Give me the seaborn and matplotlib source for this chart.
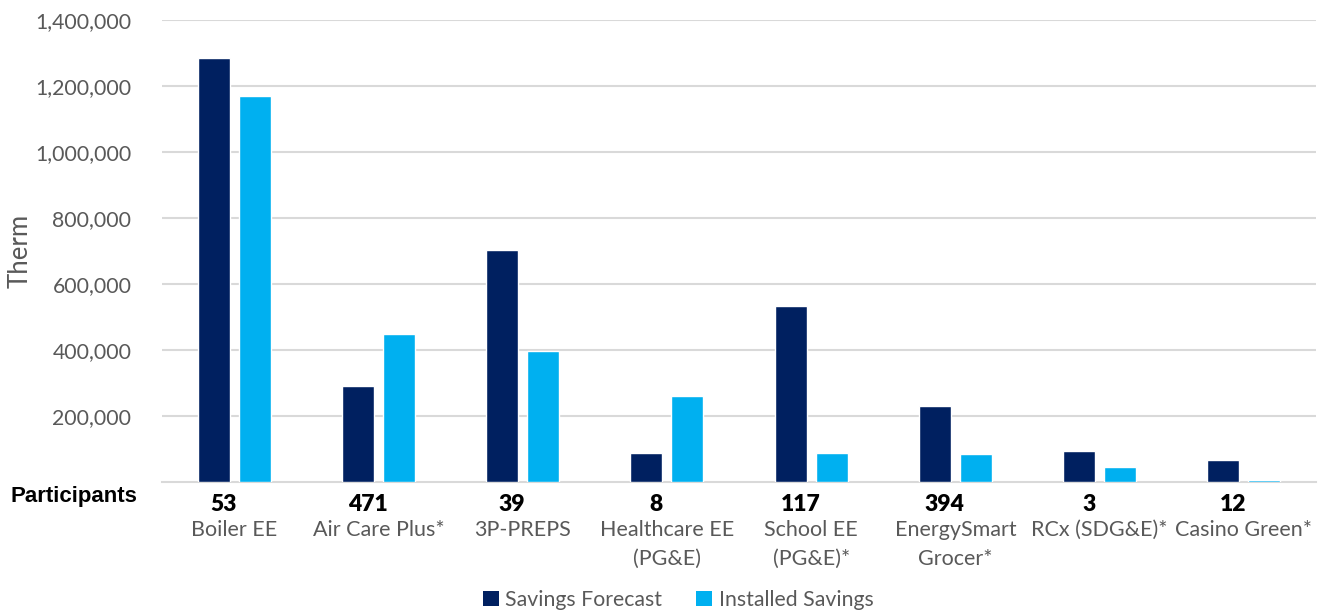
import matplotlib
matplotlib.use("Agg")
import matplotlib.pyplot as plt
import matplotlib.transforms as mtransforms
from matplotlib.patches import Patch
from matplotlib.ticker import FuncFormatter
import seaborn as sns
import pandas as pd

programs = ["Boiler EE", "Air Care Plus*", "3P-PREPS", "Healthcare EE\n(PG&E)",
            "School EE\n(PG&E)*", "EnergySmart\nGrocer*", "RCx (SDG&E)*", "Casino Green*"]
participants = ["53", "471", "39", "8", "117", "394", "3", "12"]
savings_forecast = [1284000, 291000, 703000, 89000, 532000, 230000, 95000, 67000]
installed_savings = [1170000, 447000, 397000, 262000, 89000, 85000, 46000, 6000]
series_names = ["Savings Forecast", "Installed Savings"]
colors = ["#002060", "#00B0F0"]

df = pd.DataFrame({
    "program": programs * 2,
    "series": [series_names[0]] * len(programs) + [series_names[1]] * len(programs),
    "value": savings_forecast + installed_savings,
})

sns.set_theme(style="white")
plt.rcParams["font.family"] = ["Lato", "DejaVu Sans"]

fig = plt.figure(figsize=(13.22, 6.13), dpi=100)
ax = fig.add_axes([0.1225, 0.2137, 0.8730, 0.7537])

sns.barplot(data=df, x="program", y="value", hue="series", palette=colors,
            width=0.568, gap=0.22, ax=ax, legend=False, saturation=1, zorder=3)

ax.set_ylim(0, 1400000)
ax.set_xlim(-0.5, len(programs) - 0.5)
ax.set_yticks([200000, 400000, 600000, 800000, 1000000, 1200000, 1400000])
ax.yaxis.set_major_formatter(FuncFormatter(lambda v, p: f"{int(v):,}"))
ax.grid(axis="y", color="#d9d9d9", linewidth=1.5)
ax.set_axisbelow(True)
for s in ["top", "right", "left"]:
    ax.spines[s].set_visible(False)
ax.spines["bottom"].set_color("#d9d9d9")
ax.spines["bottom"].set_linewidth(1.5)
ax.spines["bottom"].set_zorder(1)

ax.tick_params(axis="y", labelsize=15.3, labelcolor="#595959", length=0, pad=22)
ax.tick_params(axis="x", labelsize=15.5, labelcolor="#595959", length=0, pad=27)
ax.set_xticks(range(len(programs)))
ax.set_xticklabels(programs, linespacing=1.6, va="top")
ax.set_xlabel("")
ax.set_ylabel("Therm", fontsize=18.5, color="#595959")
ax.yaxis.set_label_coords(-0.112, 0.5)

trans = mtransforms.blended_transform_factory(ax.transData, ax.transAxes)
for i, n in enumerate(participants):
    ax.text(i - 0.075, -0.049, n, transform=trans, ha="center", va="center",
            fontsize=16.5, fontweight="heavy", color="black")
fig.text(0.104, 0.190, "Participants", ha="right", va="center",
         fontsize=16, fontweight="semibold", color="black",
         family=["Liberation Sans", "DejaVu Sans"])

handles = [Patch(facecolor=c, edgecolor="none") for c in colors]
fig.legend(handles, series_names, loc="center", bbox_to_anchor=(0.513, 0.021),
           ncol=2, frameon=False, fontsize=15.3, handlelength=0.75, handleheight=0.75,
           handletextpad=0.3, columnspacing=1.6, labelcolor="#595959")

fig.savefig("out.png", dpi=100)
